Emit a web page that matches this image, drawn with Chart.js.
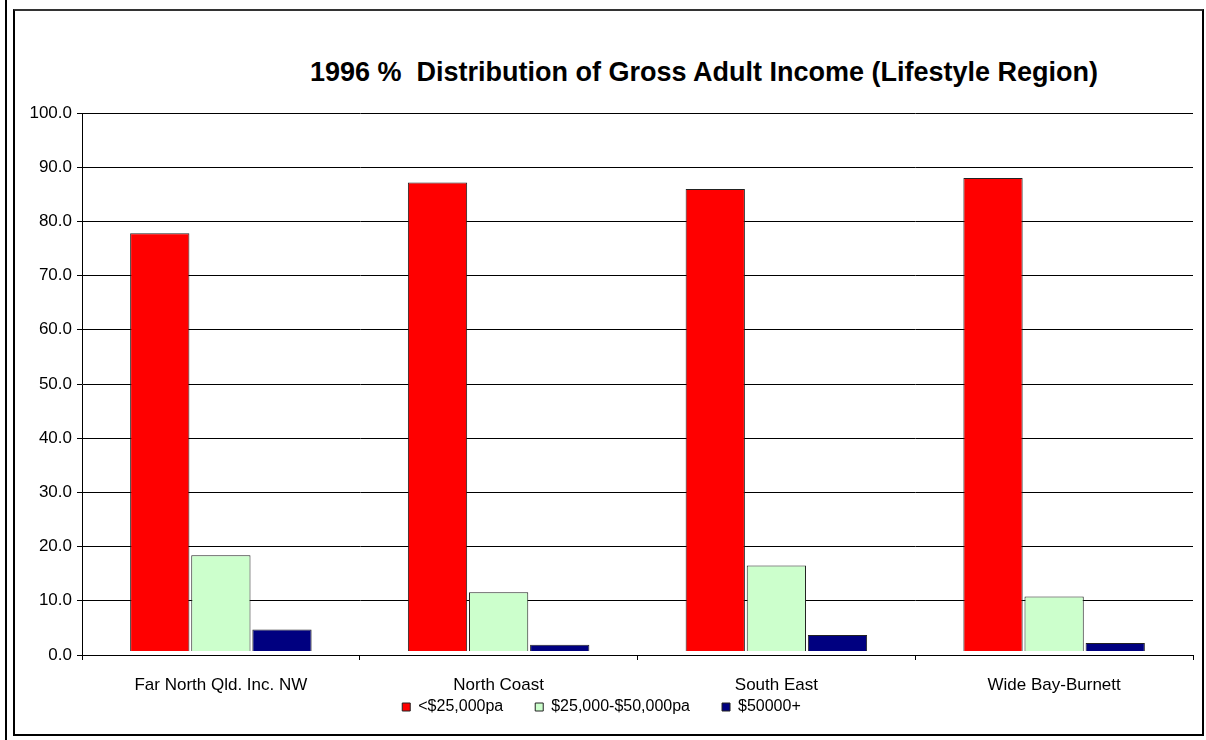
<!DOCTYPE html>
<html>
<head>
<meta charset="utf-8">
<script src="https://cdn.jsdelivr.net/npm/chart.js@4"></script>
<style>
  body { margin: 0; background: #fff; font-family: "Liberation Sans", Arial, sans-serif; }
  #wrap { position: relative; width: 1206px; height: 740px; }
  #bar { position: absolute; left: 5px; top: 0; width: 2px; height: 740px; background: #000; }
  #frame { position: absolute; left: 13px; top: 9px; width: 1187px; height: 723px; border: 2px solid #000; border-top-color: #333; }
  #title { position: absolute; left: 0; width: 1206px; top: 57px; text-align: center; padding-left: 202px; box-sizing: border-box;
           font: bold 27px "Liberation Sans", Arial, sans-serif; line-height: 30px; white-space: pre; color: #000; }
  #chart { position: absolute; left: 0; top: 0; }
</style>
</head>
<body>
<div id="wrap">
  <div id="bar"></div>
  <div id="frame"></div>
  <div id="title">1996 %  Distribution of Gross Adult Income (Lifestyle Region)</div>
  <canvas id="chart" width="1206" height="740"></canvas>
</div>
<script>
const regions = ["Far North Qld. Inc. NW", "North Coast", "South East", "Wide Bay-Burnett"]
const seriesNames = ["<$25,000pa", "$25,000-$50,000pa", "$50000+"]
const under25k = [77.8, 87.2, 86.0, 88.0]
const from25to50k = [18.4, 11.6, 16.5, 10.8]
const over50k = [4.7, 1.9, 3.7, 2.2]
const yTicks = [0, 10, 20, 30, 40, 50, 60, 70, 80, 90, 100]

const font = {family: "'Liberation Sans', Arial, sans-serif", size: 17}
const legendFont = {family: "'Liberation Sans', Arial, sans-serif", size: 16}

const chart = new Chart("chart", {
    type: "bar",
    data: {
      labels: regions,
      datasets: [
        {
            label: seriesNames[0],
            data: under25k,
            backgroundColor: "#ff0000",
            borderColor: "#222222",
        },
        {
            label: seriesNames[1],
            data: from25to50k,
            backgroundColor: "#ccffcc",
            borderColor: "#222222",
        },
        {
            label: seriesNames[2],
            data: over50k,
            backgroundColor: "#000080",
            borderColor: "#222222",
        }
      ]
    },
    options: {
      responsive: false,
      animation: false,
      layout: {padding: {left: 10, right: 13, top: 113, bottom: 15}},
      datasets: {
        // bars sit a hair above the axis line, as in the original
        bar: {borderWidth: 1, categoryPercentage: 0.66, barPercentage: 0.97, base: 0.75}
      },
      plugins: {
        legend: {
          position: "bottom",
          labels: {boxWidth: 8, boxHeight: 8, padding: 32, color: "#000", font: legendFont}
        },
        tooltip: {enabled: false},
      },
      scales: {
        x: {
          // mirrored labels are not clipped to the axis box, so they can
          // hang down into the legend's space like the spreadsheet layout
          afterFit: s => { s.height = 12 },
          grid: {drawOnChartArea: false, offset: true, tickLength: 5, color: "#000"},
          border: {color: "#000"},
          ticks: {color: "#000", font: font, mirror: true, padding: -41}
        },
        y: {
          min: 0, max: 100,
          afterFit: s => { s.width = 72 },
          afterBuildTicks: s => { s.ticks = yTicks.map(v => ({value: v})) },
          grid: {color: "#000", tickLength: 5},
          border: {color: "#000"},
          ticks: {color: "#000", font: font, padding: 5, callback: v => v.toFixed(1)}
        }
      },
    }
  })
</script>
</body>
</html>
